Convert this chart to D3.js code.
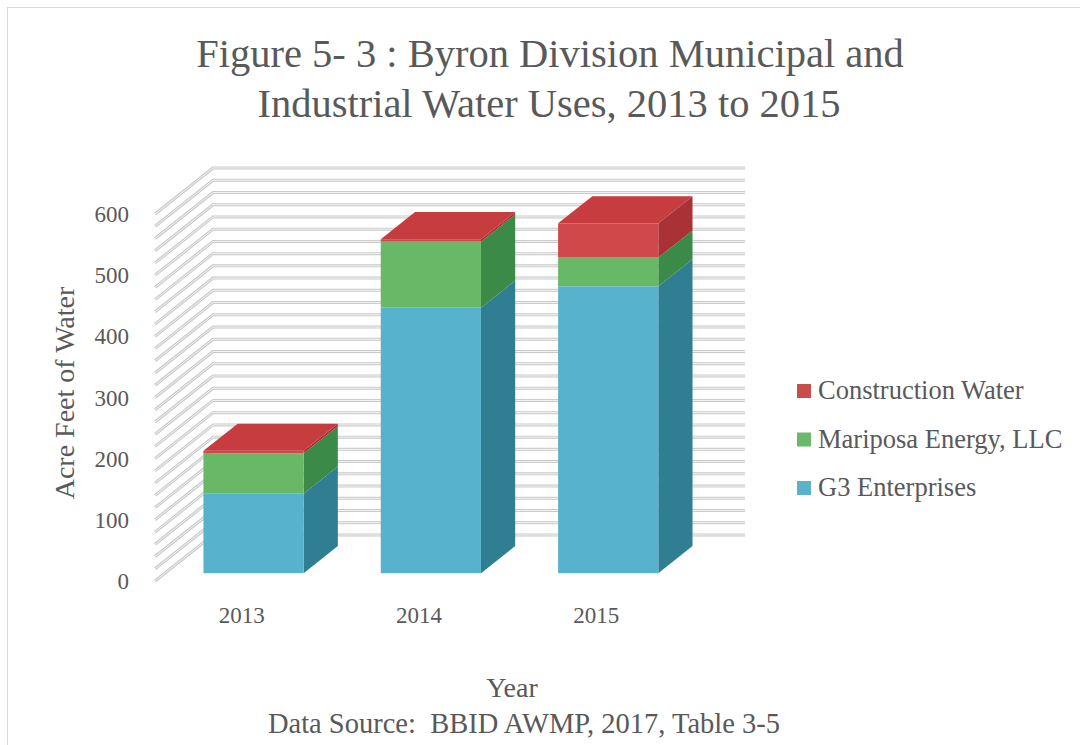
<!DOCTYPE html>
<html>
<head>
<meta charset="utf-8">
<script src="https://cdn.jsdelivr.net/npm/d3@7"></script>
<style>
  body { margin: 0; background: #fff; }
  text { font-family: "Liberation Serif", "DejaVu Serif", serif; fill: #595959; white-space: pre; }
</style>
</head>
<body>
<div id="chart"></div>
<script>
// Chart data (acre feet)
const years = ["2013", "2014", "2015"];
const seriesNames = ["G3 Enterprises", "Mariposa Energy, LLC", "Construction Water"];
const g3 = [130, 434, 469];
const mariposa = [66, 108, 47];
const construction = [4, 4, 56];
const yTicks = [0, 100, 200, 300, 400, 500, 600];

const width = 1080, height = 745;

// 3D look: depth offsets of the back wall, and of the bar front/back
const DX = 58, DY = 46;
const barFront = 0.17, barBack = 0.76;

const colors = {
  "G3 Enterprises":       { front: "#57b2cd", side: "#2f7e92", top: "#6cc2dc", key: "#5cb2cb" },
  "Mariposa Energy, LLC": { front: "#68b868", side: "#3b8a47", top: "#7ccb7c", key: "#6ab96a" },
  "Construction Water":   { front: "#d0484a", side: "#a83236", top: "#c73c3e", key: "#c84d4b" }
};

const svg = d3.select("#chart").append("svg")
    .attr("width", width)
    .attr("height", height);

// outer frame
svg.append("rect")
    .attr("x", 7.5).attr("y", 7.5)
    .attr("width", 1100).attr("height", 800)
    .attr("fill", "none")
    .attr("stroke", "#d9d9d9");

const x = d3.scaleBand()
    .domain(years)
    .range([155, 687])
    .paddingInner(0.435)
    .paddingOuter(0.2175);

const y = d3.scaleLinear()
    .domain([0, 600])
    .range([581, 214]);

// stack the series
const rows = years.map((yr, i) => ({
  year: yr,
  "G3 Enterprises": g3[i],
  "Mariposa Energy, LLC": mariposa[i],
  "Construction Water": construction[i]
}));
const stacked = d3.stack().keys(seriesNames)(rows);

// gridlines every 20 along side wall and back wall
const gridVals = d3.range(0, 601, 20);
const grid = svg.append("g");
gridVals.forEach(v => {
  const pts = [[155, y(v)], [155 + DX, y(v) - DY], [745, y(v) - DY]];
  grid.append("polyline")
      .attr("points", pts.join(" "))
      .attr("fill", "none")
      .attr("stroke", "#c9c9c9")
      .attr("stroke-width", 3);
  grid.append("polyline")
      .attr("points", pts.join(" "))
      .attr("fill", "none")
      .attr("stroke", "#f4f4f4")
      .attr("stroke-width", 1);
});

// bars
const bars = svg.append("g");
const fx = barFront * DX, fy = barFront * DY;
const bx = barBack * DX, by = barBack * DY;
const w = x.bandwidth();

stacked.forEach((layer, li) => {
  const c = colors[layer.key];
  layer.forEach((d, i) => {
    const x0 = x(years[i]) + fx;
    const x1 = x0 + w;
    const yb = y(d[0]) - fy, yt = y(d[1]) - fy;
    const ddx = bx - fx, ddy = by - fy;
    // side face
    bars.append("polygon")
        .attr("points", [[x1, yb], [x1 + ddx, yb - ddy], [x1 + ddx, yt - ddy], [x1, yt]].join(" "))
        .attr("fill", c.side);
    // front face
    bars.append("rect")
        .attr("x", x0).attr("y", yt)
        .attr("width", w).attr("height", yb - yt)
        .attr("fill", c.front);
    // top face on the top segment
    if (li === stacked.length - 1) {
      bars.append("polygon")
          .attr("points", [[x0, yt], [x0 + ddx, yt - ddy], [x1 + ddx, yt - ddy], [x1, yt]].join(" "))
          .attr("fill", c.top);
    }
  });
});

// y tick labels
svg.append("g").selectAll("text")
    .data(yTicks)
    .join("text")
    .attr("x", 129)
    .attr("y", d => y(d) + 8)
    .attr("text-anchor", "end")
    .style("font-size", "23px")
    .text(d => d);

// x tick labels
svg.append("g").selectAll("text")
    .data(years)
    .join("text")
    .attr("x", d => x(d) + w / 2 - 2)
    .attr("y", 623)
    .attr("text-anchor", "middle")
    .style("font-size", "23px")
    .text(d => d);

// titles
svg.append("text")
    .attr("x", 550).attr("y", 67)
    .attr("text-anchor", "middle")
    .style("font-size", "40.5px")
    .text("Figure 5- 3 : Byron Division Municipal and");
svg.append("text")
    .attr("x", 549).attr("y", 117)
    .attr("text-anchor", "middle")
    .style("font-size", "40.5px")
    .text("Industrial Water Uses, 2013 to 2015");

svg.append("text")
    .attr("transform", "translate(74,393) rotate(-90)")
    .attr("text-anchor", "middle")
    .style("font-size", "28px")
    .text("Acre Feet of Water");

svg.append("text")
    .attr("x", 512).attr("y", 697)
    .attr("text-anchor", "middle")
    .style("font-size", "28px")
    .text("Year");

svg.append("text")
    .attr("x", 524).attr("y", 733)
    .attr("text-anchor", "middle")
    .style("font-size", "28.5px")
    .text("Data Source:  BBID AWMP, 2017, Table 3-5");

// legend (top series first)
const legendKeys = seriesNames.slice().reverse();
const legend = svg.append("g").selectAll("g")
    .data(legendKeys)
    .join("g")
    .attr("transform", (d, i) => `translate(797,${384 + i * 48.5})`);
legend.append("rect")
    .attr("width", 14).attr("height", 14)
    .attr("fill", d => colors[d].key);
legend.append("text")
    .attr("x", 21).attr("y", 15)
    .style("font-size", "26.5px")
    .text(d => d);
</script>
</body>
</html>
